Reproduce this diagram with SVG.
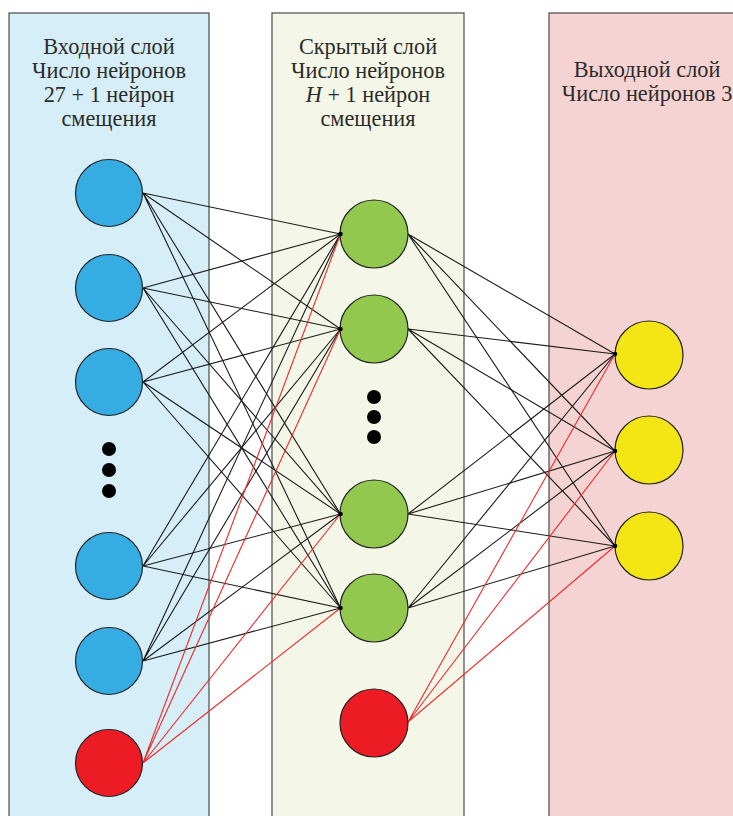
<svg xmlns="http://www.w3.org/2000/svg" width="733" height="816" viewBox="0 0 733 816">
<style>
.panel{stroke:#4a4a4a;stroke-width:1.2}
.lbl{font-family:"Liberation Serif","Times New Roman",serif;font-size:22.3px;fill:#2b2b2b;text-anchor:middle}
.node{stroke:#222;stroke-width:1.2}
.in{fill:#35ade3}
.hid{fill:#93c84f}
.out{fill:#f4e614}
.bias{fill:#ed1c24}
.w{stroke:#1a1a1a;stroke-width:1.1;fill:none}
.r{stroke:#ee2a2a;stroke-width:1.1;fill:none}
.pt{fill:#000}
.dot{fill:#000}
</style>
<rect width="733" height="816" fill="#fff"/>
<g id="panels">
<rect class="panel" x="9" y="13" width="200" height="810" fill="#d6eef7"/>
<rect class="panel" x="272" y="13" width="192" height="810" fill="#f4f7e7"/>
<rect class="panel" x="549" y="13" width="200" height="810" fill="#f6d3d3"/>
</g>
<g id="labels">
<text class="lbl" x="109" y="54">Входной слой</text>
<text class="lbl" x="109" y="78">Число нейронов</text>
<text class="lbl" x="109" y="102">27 + 1 нейрон</text>
<text class="lbl" x="109" y="126">смещения</text>
<text class="lbl" x="368" y="54">Скрытый слой</text>
<text class="lbl" x="368" y="78">Число нейронов</text>
<text class="lbl" x="368" y="102"><tspan font-style="italic">H</tspan> + 1 нейрон</text>
<text class="lbl" x="368" y="126">смещения</text>
<text class="lbl" x="647" y="77">Выходной слой</text>
<text class="lbl" x="647" y="101">Число нейронов 3</text>
</g>
<g id="connectors">
<g class="w">
<path d="M143 193L340.5 234M143 193L340.5 329M143 193L340.5 514M143 193L340.5 608"/>
<path d="M143 288L340.5 234M143 288L340.5 329M143 288L340.5 514M143 288L340.5 608"/>
<path d="M143 382L340.5 234M143 382L340.5 329M143 382L340.5 514M143 382L340.5 608"/>
<path d="M143 566L340.5 234M143 566L340.5 329M143 566L340.5 514M143 566L340.5 608"/>
<path d="M143 661L340.5 234M143 661L340.5 329M143 661L340.5 514M143 661L340.5 608"/>
<path d="M408 234L615 354M408 234L615 451M408 234L615 546"/>
<path d="M408 329L615 354M408 329L615 451M408 329L615 546"/>
<path d="M408 514L615 354M408 514L615 451M408 514L615 546"/>
<path d="M408 608L615 354M408 608L615 451M408 608L615 546"/>
</g>
<g class="r">
<path d="M143 763L340.5 234M143 763L340.5 329M143 763L340.5 514M143 763L340.5 608"/>
<path d="M408 722L615 354M408 722L615 451M408 722L615 546"/>
</g>
</g>
<g id="input-1"><circle class="node in" cx="109" cy="193" r="33.5"/></g>
<g id="input-2"><circle class="node in" cx="109" cy="288" r="33.5"/></g>
<g id="input-3"><circle class="node in" cx="109" cy="382" r="33.5"/></g>
<g id="input-dots"><circle class="dot" cx="109" cy="449" r="7"/><circle class="dot" cx="109" cy="470" r="7"/><circle class="dot" cx="109" cy="491" r="7"/></g>
<g id="input-4"><circle class="node in" cx="109" cy="566" r="33.5"/></g>
<g id="input-5"><circle class="node in" cx="109" cy="661" r="33.5"/></g>
<g id="input-bias"><circle class="node bias" cx="109" cy="763" r="33.5"/></g>
<g id="hidden-1"><circle class="node hid" cx="374" cy="234" r="34"/><circle class="pt" cx="340.5" cy="234" r="2.3"/></g>
<g id="hidden-2"><circle class="node hid" cx="374" cy="329" r="34"/><circle class="pt" cx="340.5" cy="329" r="2.3"/></g>
<g id="hidden-dots"><circle class="dot" cx="374" cy="397" r="7"/><circle class="dot" cx="374" cy="417" r="7"/><circle class="dot" cx="374" cy="437" r="7"/></g>
<g id="hidden-3"><circle class="node hid" cx="374" cy="514" r="34"/><circle class="pt" cx="340.5" cy="514" r="2.3"/></g>
<g id="hidden-4"><circle class="node hid" cx="374" cy="608" r="34"/><circle class="pt" cx="340.5" cy="608" r="2.3"/></g>
<g id="hidden-bias"><circle class="node bias" cx="374" cy="723" r="34"/></g>
<g id="output-1"><circle class="node out" cx="649" cy="355" r="34"/><circle class="pt" cx="615" cy="354" r="2.3"/></g>
<g id="output-2"><circle class="node out" cx="649" cy="450" r="34"/><circle class="pt" cx="615" cy="451" r="2.3"/></g>
<g id="output-3"><circle class="node out" cx="649" cy="546" r="34"/><circle class="pt" cx="615" cy="546" r="2.3"/></g>
</svg>
